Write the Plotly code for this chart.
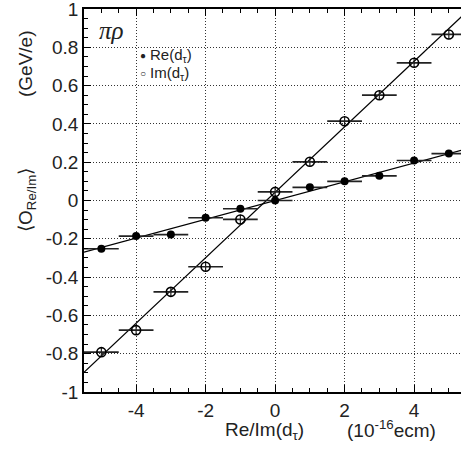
import plotly.graph_objects as go

# Data
x_bins = [-5, -4, -3, -2, -1, 0, 1, 2, 3, 4, 5]
re_vals = [-0.252, -0.186, -0.178, -0.090, -0.043, 0.000, 0.069, 0.100, 0.129, 0.209, 0.245]
im_vals = [-0.792, -0.677, -0.477, -0.346, -0.099, 0.045, 0.202, 0.414, 0.550, 0.719, 0.867]
x_err = [0.5] * 11
re_yerr = [0.01] * 11
im_yerr = [0.025] * 11

re_fit = {"slope": 0.049, "intercept": 0.0}
im_fit = {"slope": 0.171, "intercept": 0.043}
fit_x = [-5.5, 5.5]

x_range = [-5.5, 5.35]
y_range = [-1, 1]
x_tickvals = [-4, -2, 0, 2, 4]
x_ticktext = ["-4", "-2", "0", "2", "4"]
y_tickvals = [-1, -0.8, -0.6, -0.4, -0.2, 0, 0.2, 0.4, 0.6, 0.8, 1]
y_ticktext = ["-1", "-0.8", "-0.6", "-0.4", "-0.2", "0", "0.2", "0.4", "0.6", "0.8", "1"]
x_minor_step = 0.5
y_minor_step = 0.05

FONT = "Liberation Sans, Arial, sans-serif"

fig = go.Figure()

fig.add_trace(go.Scatter(
    x=fit_x, y=[re_fit["slope"] * v + re_fit["intercept"] for v in fit_x],
    mode="lines", line=dict(color="black", width=1.2), showlegend=False, hoverinfo="skip"))
fig.add_trace(go.Scatter(
    x=fit_x, y=[im_fit["slope"] * v + im_fit["intercept"] for v in fit_x],
    mode="lines", line=dict(color="black", width=1.2), showlegend=False, hoverinfo="skip"))

fig.add_trace(go.Scatter(
    x=x_bins, y=re_vals, mode="markers", name="Re(d<sub>τ</sub>)",
    marker=dict(symbol="circle", size=8, color="black"),
    error_x=dict(type="data", array=x_err, color="#222", thickness=1.7, width=0),
    error_y=dict(type="data", array=re_yerr, color="#222", thickness=1.2, width=0),
    showlegend=False))
fig.add_trace(go.Scatter(
    x=x_bins, y=im_vals, mode="markers", name="Im(d<sub>τ</sub>)",
    marker=dict(symbol="circle-open", size=9, color="black", line=dict(width=1.6)),
    error_x=dict(type="data", array=x_err, color="#222", thickness=1.7, width=0),
    error_y=dict(type="data", array=im_yerr, color="#222", thickness=1.2, width=0),
    showlegend=False))

# invisible trace on overlay axes that carry the minor ticks
fig.add_trace(go.Scatter(x=[None], y=[None], xaxis="x2", yaxis="y2",
                         mode="markers", showlegend=False, hoverinfo="skip"))

fig.update_layout(
    xaxis=dict(
        range=x_range, tickmode="array", tickvals=x_tickvals, ticktext=x_ticktext,
        ticks="inside", ticklen=7, tickwidth=1.2, tickcolor="black",
        showline=True, linecolor="black", linewidth=1.6, mirror="ticks",
        showgrid=True, gridcolor="#333", gridwidth=1, griddash="1px,2px",
        zeroline=False, ticklabeloverflow="allow",
        tickfont=dict(family=FONT, size=19, color="#222"),
    ),
    yaxis=dict(
        range=y_range, tickmode="array", tickvals=y_tickvals, ticktext=y_ticktext,
        ticks="inside", ticklen=7, tickwidth=1.2, tickcolor="black",
        showline=True, linecolor="black", linewidth=1.6, mirror=False,
        showgrid=True, gridcolor="#333", gridwidth=1, griddash="1px,2px",
        zeroline=False, ticklabeloverflow="allow",
        tickfont=dict(family=FONT, size=19, color="#222"),
    ),
    xaxis2=dict(
        range=x_range, overlaying="x", anchor="y2", side="bottom",
        tickmode="linear", tick0=0, dtick=x_minor_step,
        ticks="inside", ticklen=4, tickwidth=1, tickcolor="black",
        showticklabels=False, showgrid=False, zeroline=False,
        showline=False, mirror="ticks",
    ),
    yaxis2=dict(
        range=y_range, overlaying="y", anchor="x2", side="left",
        tickmode="linear", tick0=0, dtick=y_minor_step,
        ticks="inside", ticklen=4, tickwidth=1, tickcolor="black",
        showticklabels=False, showgrid=False, zeroline=False,
        showline=False,
    ),
    width=461, height=454,
    margin=dict(l=84, r=0, t=9, b=62, autoexpand=False),
    paper_bgcolor="white", plot_bgcolor="white",
    showlegend=False,
    font=dict(family=FONT, color="#222"),
)

PW, PH = 461 - 84, 392 - 9


def px_ann(text, x, y, size, family=FONT, **kw):
    # x, y: pixel position in the figure; converted to paper units of the plot area
    kw.setdefault("xanchor", "center")
    kw.setdefault("yanchor", "middle")
    fig.add_annotation(text=text, x=(x - 84) / PW, y=(392 - y) / PH,
                       xref="paper", yref="paper", showarrow=False,
                       font=dict(family=family, size=size, color="#222"), **kw)


px_ann("<i>πρ</i>", 111, 30, 25, family="Liberation Serif, serif")
px_ann("●", 143, 55, 10)
px_ann("○", 143, 74, 10)
px_ann("Re(d<sub>τ</sub>)", 148, 55, 15, xanchor="left")
px_ann("Im(d<sub>τ</sub>)", 148, 74, 15, xanchor="left")
px_ann("Re/Im(d<sub>τ</sub>)", 264, 431, 19)
px_ann("(10<sup>-16</sup>ecm)", 391, 429, 19)
px_ann("(GeV/e)", 25, 64, 19, textangle=-90)
px_ann("⟨O<sub>Re/Im</sub>⟩", 27, 200, 19, textangle=-90)

fig.write_html("out.html", config={"displayModeBar": False},
               post_script="document.body.style.margin='0';")
